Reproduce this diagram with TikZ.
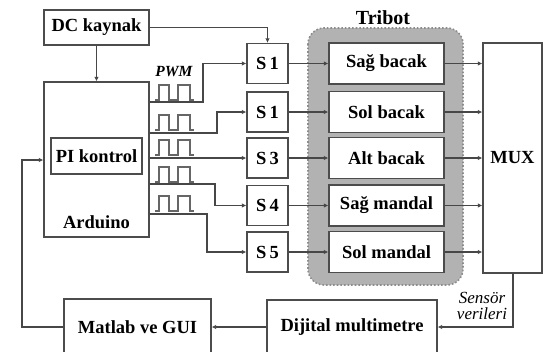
\documentclass[tikz,border=0pt]{standalone}
\usepackage{fontspec}
\setmainfont{Liberation Serif}
\usetikzlibrary{arrows.meta}
\begin{document}
\begin{tikzpicture}[x=1pt,y=-1pt,
  box/.style={draw=black!70, line width=1.3pt, fill=white, inner sep=0pt,
    font=\fontsize{18.5}{20}\selectfont\bfseries},
  lbl/.style={inner sep=0pt, font=\fontsize{18.5}{20}\selectfont\bfseries},
  ln/.style={draw=black!72, line width=1.2pt},
  arr/.style={ln, -{Latex[length=4.5pt,width=4.5pt]}},
  wave/.style={draw=black!60, line width=1.1pt},
  pwm/.pic={\draw[wave] (0,0) -- (4,0) -- (4,-15) -- (14,-15) -- (14,0) -- (23,0) -- (23,-15) -- (35,-15) -- (35,0) -- (39,0);}]
\clip (0,0) rectangle (543,351);
\fill[white] (0,0) rectangle (543,351);

% Tribot group background
\draw[fill=black!30, draw=black!45, dotted, line width=1.6pt, rounded corners=16pt] (308,28) rectangle (463,285);
\node[inner sep=0pt, font=\fontsize{20}{22}\selectfont\bfseries] (tribot) at (383,18) {Tribot};

% left side
\node[box, minimum width=105pt, minimum height=35pt] (dc) at (96.5,27.5) {DC kaynak};
\node[box, minimum width=105pt, minimum height=155pt] (ard) at (96.5,159.5) {};
\node[box, minimum width=91pt, minimum height=36pt] (pi) at (96.5,156) {PI kontrol};
\node[lbl] (ardlbl) at (96.5,222) {Arduino};

% switches
\node[box, minimum width=41pt, minimum height=40pt] (s1) at (267.5,63.5) {S\,1};
\node[box, minimum width=41pt, minimum height=40pt] (s2) at (267.5,112) {S\,1};
\node[box, minimum width=41pt, minimum height=40pt] (s3) at (267.5,158) {S\,3};
\node[box, minimum width=41pt, minimum height=40pt] (s4) at (267.5,205.5) {S\,4};
\node[box, minimum width=41pt, minimum height=40pt] (s5) at (267.5,252) {S\,5};

% tribot parts
\node[box, minimum width=115pt, minimum height=41pt] (t1) at (386.5,63.5) {Sağ bacak};
\node[box, minimum width=115pt, minimum height=41pt] (t2) at (386.5,112) {Sol bacak};
\node[box, minimum width=115pt, minimum height=41pt] (t3) at (386.5,158) {Alt bacak};
\node[box, minimum width=115pt, minimum height=41pt] (t4) at (386.5,205.5) {Sağ mandal};
\node[box, minimum width=115pt, minimum height=41pt] (t5) at (386.5,252) {Sol mandal};

% MUX
\node[box, minimum width=59pt, minimum height=230pt] (mux) at (512.5,158) {MUX};

% bottom
\node[box, minimum width=147pt, minimum height=56pt] (mat) at (137.5,327) {Matlab ve GUI};
\node[box, minimum width=170pt, minimum height=54pt] (dij) at (352,327) {Dijital multimetre};

% labels
\node[inner sep=0pt, font=\fontsize{15.5}{17}\selectfont\bfseries\itshape] (pwmlbl) at (174,72) {PWM};
\node[inner sep=0pt, align=center, font=\fontsize{17}{15.5}\selectfont\itshape] (sens) at (482,306) {Sensör\\verileri};

% PWM waveforms
\pic at (155,100) {pwm};
\pic at (155,130) {pwm};
\pic at (155,155) {pwm};
\pic at (155,182) {pwm};
\pic at (155,211) {pwm};

% PWM lines
\draw[arr] (ard.east |- 0,102) -- (203,102) |- (s1.west);
\draw[arr] (ard.east |- 0,133) -- (217,133) |- (s2.west);
\draw[arr] (ard.east |- 0,158) -- (s3.west);
\draw[arr] (ard.east |- 0,184) -- (215,184) |- (s4.west);
\draw[arr] (ard.east |- 0,214) -- (207,214) |- (s5.west);

% DC connections
\draw[arr] (dc.south) -- (ard.north);
\draw[arr] (dc.east) -| (s1.north);

% switches to tribot, tribot to mux
\foreach \i in {1,...,5} {
  \draw[arr] (s\i.east) -- (t\i.west);
  \draw[arr] (t\i.east) -- (t\i.east -| mux.west);
}

% feedback
\coordinate (mxd) at (513,273);
\draw[arr] (mxd) |- (dij.east);
\draw[arr] (dij.west) -- (mat.east);
\coordinate (fb) at (22,160);
\draw[arr] (mat.west) -| (fb) -- (fb -| ard.west);
\end{tikzpicture}
\end{document}
